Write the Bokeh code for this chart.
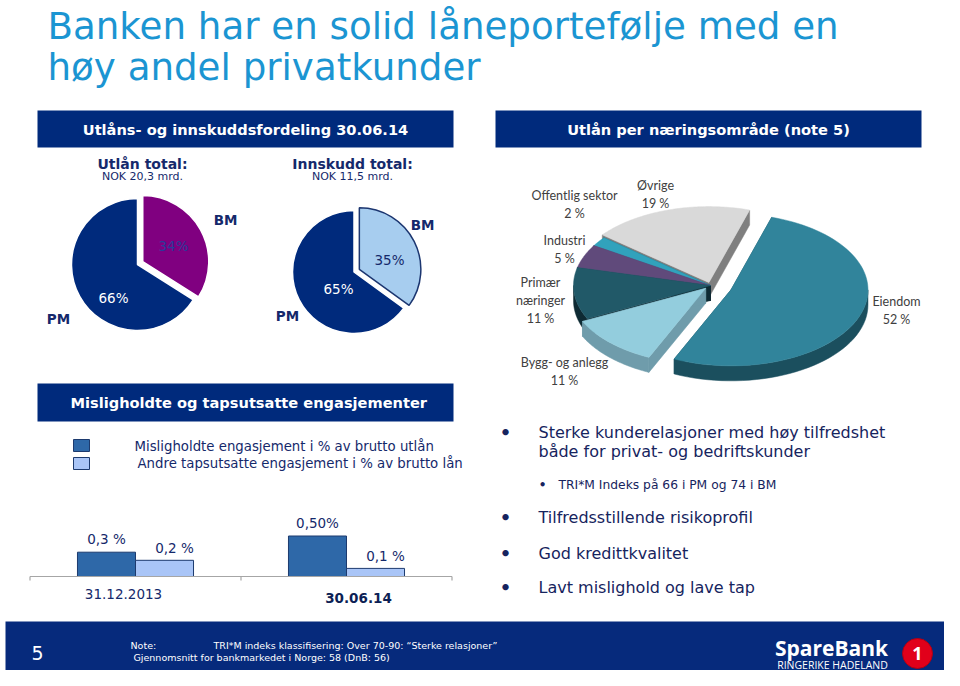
import numpy as np
from bokeh.plotting import figure
from bokeh.models import Range1d
from bokeh.embed import file_html
from bokeh.resources import INLINE
from bokeh.core.properties import value

# ---------------- data ----------------
title_lines = ["Banken har en solid låneportefølje med en", "høy andel privatkunder"]
segment_labels = ["PM", "BM"]
utlan_pct = [66, 34]
innskudd_pct = [65, 35]
sector_names = ["Eiendom", "Bygg- og anlegg", "Primær næringer", "Industri", "Offentlig sektor", "Øvrige"]
sector_pct = [52, 11, 11, 5, 2, 19]
bar_categories = ["31.12.2013", "30.06.14"]
mislighold = [0.3, 0.5]
tapsutsatte = [0.2, 0.1]
mislighold_text = ["0,3 %", "0,50%"]
tapsutsatte_text = ["0,2 %", "0,1 %"]
bullets = ["Sterke kunderelasjoner med høy tilfredshet\nbåde for privat- og bedriftskunder",
           "Tilfredsstillende risikoprofil", "God kredittkvalitet", "Lavt mislighold og lave tap"]
sub_bullet = "TRI*M Indeks på 66 i PM og 74 i BM"

# ---------------- canvas ----------------
W, H = 944, 670
p = figure(width=W, height=H, output_backend="svg", toolbar_location=None,
           x_range=Range1d(0, W), y_range=Range1d(686 - H, 686), min_border=0)
p.axis.visible = False
p.grid.visible = False
p.outline_line_color = None
p.background_fill_color = "white"
p.border_fill_color = "white"


def Y(y):
    return 686 - y


NAVY = "#002a7c"
TXT = "#15296b"
DJ = "DejaVu Sans"


def txt(x, y, s, size, color=TXT, bold=False, align="left", font=DJ, baseline="middle", **kw):
    p.text(x=[x], y=[Y(y)], text=[s], text_font=value(font), text_font_size=f"{size}px",
           text_color=color, text_align=align, text_baseline=baseline,
           text_font_style="bold" if bold else "normal", **kw)


def box(l, r, t, b, fill, line=None, lw=1):
    p.quad(left=[l], right=[r], top=[Y(t)], bottom=[Y(b)], fill_color=fill,
           line_color=line, line_width=lw)


# ---------------- title ----------------
txt(47, 25, title_lines[0], 37.2, color="#1b95d2")
txt(47, 66, title_lines[1], 37.2, color="#1b95d2")

# ---------------- header bars ----------------
box(37, 453, 110, 147, NAVY)
txt(245, 129, "Utlåns- og innskuddsfordeling 30.06.14", 14.6, "white", bold=True, align="center")
box(495, 921, 110, 147, NAVY)
txt(708, 129, "Utlån per næringsområde (note 5)", 14.6, "white", bold=True, align="center")
box(37, 453, 383, 421, NAVY)
txt(70, 402, "Misligholdte og tapsutsatte engasjementer", 14.6, "white", bold=True)

# ---------------- 2D pies ----------------
def pie2d(cx, cy, r, pct, bm_fill, bm_line, explode):
    fr = np.array(pct, dtype=float) / sum(pct)
    order = [1, 0]  # clockwise from 12 o'clock: BM then PM
    start = np.pi / 2
    for i in order:
        end = start - fr[i] * 2 * np.pi
        mid = (start + end) / 2
        if i == 1:
            ox, oy = explode * np.cos(mid), explode * np.sin(mid)
            fill, line, lw = bm_fill, bm_line, 1.5
        else:
            ox, oy = 0, 0
            fill, line, lw = NAVY, "white", 1.5
        p.wedge(x=[cx + ox], y=[Y(cy) + oy], radius=r, start_angle=start, end_angle=end,
                direction="clock", fill_color=fill, line_color=line, line_width=lw)
        start = end


pie2d(137, 264, 66, utlan_pct, "#800080", "white", 6)
pie2d(353.5, 271.5, 61.5, innskudd_pct, "#a7cdef", "#1c3670", 6)

txt(142, 163, "Utlån total:", 14, TXT, bold=True, align="center")
txt(142, 176, "NOK 20,3 mrd.", 11, TXT, align="center")
txt(352, 163, "Innskudd total:", 14, TXT, bold=True, align="center")
txt(352, 176, "NOK 11,5 mrd.", 11, TXT, align="center")

txt(173, 245, f"{utlan_pct[1]}%", 13.5, "#2b3a9a", align="center")
txt(113, 297, f"{utlan_pct[0]}%", 13.5, "white", align="center")
txt(225, 219, segment_labels[1], 13.5, TXT, bold=True, align="center")
txt(58, 318, segment_labels[0], 13.5, TXT, bold=True, align="center")
txt(389, 259, f"{innskudd_pct[1]}%", 13.5, TXT, align="center")
txt(338, 288, f"{innskudd_pct[0]}%", 13.5, "white", align="center")
txt(422, 224, segment_labels[1], 13.5, TXT, bold=True, align="center")
txt(287, 315, segment_labels[0], 13.5, TXT, bold=True, align="center")

# ---------------- 3D pie ----------------
cx, cy, rx, ry, th = 710, 285, 137, 76, 15
start_deg = 17.3
explode = [0.16, 0.05, 0.0, 0.0, 0.0, 0.04]
tops = ["#31849b", "#93cddd", "#215968", "#604a7b", "#31a2bc", "#d9d9d9"]
sides = ["#1b4f5e", "#6f9cab", "#0e2a33", "#3b2d50", "#1f6a7b", "#7f7f7f"]

fr = np.array(sector_pct, dtype=float) / sum(sector_pct)
bounds = start_deg + 360 * np.concatenate([[0], np.cumsum(fr)])
slices = []
for i in range(len(fr)):
    a1, a2 = np.radians(bounds[i]), np.radians(bounds[i + 1])
    mid = (a1 + a2) / 2
    ox = explode[i] * rx * np.sin(mid)
    oy = -explode[i] * ry * np.cos(mid)
    slices.append((i, a1, a2, mid, cx + ox, cy + oy))


def P(ax, ay, a):
    return ax + rx * np.sin(a), ay - ry * np.cos(a)


order = sorted(slices, key=lambda s: -np.cos(s[3]))  # back to front
wx, wy, wc = [], [], []
for (i, a1, a2, mid, ax, ay) in order:
    for a in (a1, a2):
        ex, ey = P(ax, ay, a)
        xs = [ax, ex, ex, ax]
        ys = [ay, ey, ey + th, ay + th]
        wx.append(xs); wy.append([Y(v) for v in ys]); wc.append(sides[i])
    for shift in (0, 2 * np.pi):
        l2, h2 = max(a1, np.radians(90) + shift), min(a2, np.radians(270) + shift)
        if h2 > l2:
            t = np.linspace(l2, h2, 40)
            xs, ys = P(ax, ay, t)
            X = np.concatenate([xs, xs[::-1]])
            Yw = np.concatenate([ys, (ys + th)[::-1]])
            wx.append(list(X)); wy.append([Y(v) for v in Yw]); wc.append(sides[i])
p.patches(xs=wx, ys=wy, fill_color=wc, line_color=wc, line_width=0.5)

tx, ty, tc = [], [], []
for (i, a1, a2, mid, ax, ay) in order:
    t = np.linspace(a1, a2, 80)
    xs, ys = P(ax, ay, t)
    X = np.concatenate([[ax], xs])
    Yw = np.concatenate([[ay], ys])
    tx.append(list(X)); ty.append([Y(v) for v in Yw]); tc.append(tops[i])
p.patches(xs=tx, ys=ty, fill_color=tc, line_color=tc, line_width=0.5)

LF = "Lato"
LC = "#404040"
sector_label_pos = [(896, 301), (564, 362), (540, 282), (564, 240), (574, 195), (655, 185)]
for name, pct, (lx, ly) in zip(sector_names, sector_pct, sector_label_pos):
    if name == "Primær næringer":
        txt(lx, ly, "Primær", 12.5, LC, align="center", font=LF)
        txt(lx, ly + 18, "næringer", 12.5, LC, align="center", font=LF)
        txt(lx, ly + 36, f"{pct} %", 12.5, LC, align="center", font=LF)
    else:
        txt(lx, ly, name, 12.5, LC, align="center", font=LF)
        txt(lx, ly + 18, f"{pct} %", 12.5, LC, align="center", font=LF)

# ---------------- bar chart (own scales via extra ranges) ----------------
base_w = 576.0
ppu_y = 81.0
x0_w, ppu_x = 135.0, 211.0
p.extra_y_ranges = {"bar": Range1d(start=-(H - base_w) / ppu_y, end=base_w / ppu_y)}
p.extra_x_ranges = {"bar": Range1d(start=(0 - x0_w) / ppu_x, end=(W - x0_w) / ppu_x)}

idx = np.arange(len(bar_categories))
bw = 0.275
p.vbar(x=idx - bw / 2, top=mislighold, bottom=0, width=bw, fill_color="#2e68a8",
       line_color="#1c3a6e", line_width=1, x_range_name="bar", y_range_name="bar")
p.vbar(x=idx + bw / 2, top=tapsutsatte, bottom=0, width=bw, fill_color="#a9c5f7",
       line_color="#1c3a6e", line_width=1, x_range_name="bar", y_range_name="bar")
p.line(x=[-0.5, 1.5], y=[0, 0], line_color="#a6a6a6", line_width=1.2,
       x_range_name="bar", y_range_name="bar")
p.segment(x0=[-0.5, 0.5, 1.5], y0=[0, 0, 0], x1=[-0.5, 0.5, 1.5], y1=[-0.05, -0.05, -0.05],
          line_color="#a6a6a6", line_width=1.2, x_range_name="bar", y_range_name="bar")

p.text(x=idx - bw / 2, y=mislighold, text=mislighold_text, text_font=value(DJ), text_font_size="13.5px",
       text_color=TXT, text_align="center", text_baseline="bottom", y_offset=-5,
       x_range_name="bar", y_range_name="bar")
p.text(x=idx + bw / 2, y=tapsutsatte, text=tapsutsatte_text, text_font=value(DJ), text_font_size="13.5px",
       text_color=TXT, text_align="center", text_baseline="bottom", y_offset=-4, x_offset=10,
       x_range_name="bar", y_range_name="bar")
p.text(x=[idx[0]], y=[0], text=[bar_categories[0]], text_font=value(DJ), text_font_size="13.5px",
       text_color=TXT, text_align="center", text_baseline="middle", y_offset=17, x_offset=-12,
       x_range_name="bar", y_range_name="bar")
p.text(x=[idx[1]], y=[0], text=[bar_categories[1]], text_font=value(DJ), text_font_size="13.5px",
       text_font_style="bold", text_color="#0d1f55", text_align="center", text_baseline="middle",
       y_offset=21, x_offset=12, x_range_name="bar", y_range_name="bar")

# legend
box(73, 89, 439, 451, "#2e68a8", "#1c3a6e")
box(73, 89, 457, 469, "#a9c5f7", "#1c3a6e")
txt(134, 446, "Misligholdte engasjement i % av brutto utlån", 13.3, TXT)
txt(137, 463, "Andre tapsutsatte engasjement i % av brutto lån", 13.3, TXT)

# ---------------- bullets ----------------
BC = "#16245e"
b1 = bullets[0].split("\n")
txt(505, 432, "•", 18, BC, bold=True, align="center")
txt(538, 432, b1[0], 16, BC)
txt(538, 451, b1[1], 16, BC)
txt(542, 484, "•", 12, BC, bold=True, align="center")
txt(558, 484, sub_bullet, 12.3, BC)
for s, yy in zip(bullets[1:], [517, 553, 587]):
    txt(505, yy, "•", 18, BC, bold=True, align="center")
    txt(538, yy, s, 16, BC)

# ---------------- footer ----------------
box(5, 957, 621, 683, "#062a7c")
txt(37, 652, "5", 19, "white", align="center")
txt(130, 645, "Note:", 9.5, "white")
txt(213, 645, "TRI*M indeks klassifisering: Over 70-90: \u201cSterke relasjoner\u201d", 9.5, "white")
txt(133, 657, "Gjennomsnitt for bankmarkedet i Norge: 58 (DnB: 56)", 9.5, "white")
txt(831, 647, "SpareBank", 21, "white", bold=True, align="center", font="Open Sans")
txt(832, 664, "RINGERIKE HADELAND", 10.5, "white", align="center", font="Open Sans")
p.circle(x=[917], y=[Y(653)], radius=15, fill_color="#e1001a", line_color="#b00014")
txt(917, 653, "1", 18, "white", bold=True, align="center", font="Open Sans")

open("out.html", "w").write(file_html(p, INLINE))
